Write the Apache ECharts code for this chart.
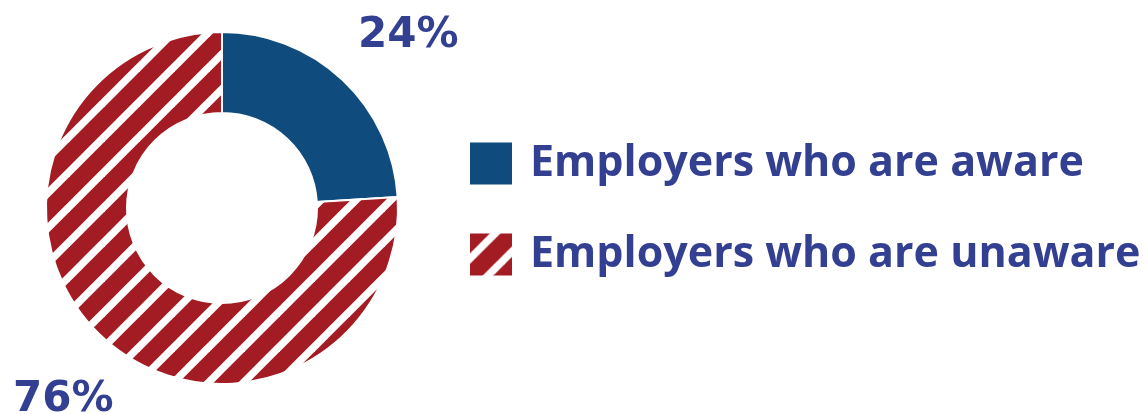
<!DOCTYPE html>
<html>
<head>
<meta charset="utf-8">
<script src="https://cdn.jsdelivr.net/npm/echarts@6/dist/echarts.min.js"></script>
<style>
  html, body { margin: 0; padding: 0; background: #ffffff; }
  #chart { width: 1148px; height: 414px; }
</style>
</head>
<body>
<div id="chart"></div>
<script>
// Share of employers by awareness (percent)
const categories = ['Employers who are aware', 'Employers who are unaware'];
const shares = [24, 76];

const BLUE = '#0F4C7D';
const RED = '#A31C24';
const TEXT = '#333F91';
const LEGEND_FONT = '"Open Sans", "Noto Sans", sans-serif';
const LABEL_FONT = '"DejaVu Sans", Verdana, sans-serif';

// Diagonal red/white hatch ("/" stripes), tiled from a square canvas.
// Each white line runs well past the tile edges so the tiles join seamlessly.
function makeHatch(period, gap, phase) {
  const c = document.createElement('canvas');
  c.width = period;
  c.height = period;
  const ctx = c.getContext('2d');
  ctx.fillStyle = RED;
  ctx.fillRect(0, 0, period, period);
  ctx.strokeStyle = '#ffffff';
  ctx.lineWidth = gap;
  for (let k = -2; k <= 3; k++) {
    const s = phase + k * period;
    ctx.beginPath();
    ctx.moveTo(s - 2 * period, 2 * period);
    ctx.lineTo(s + period, -period);
    ctx.stroke();
  }
  return c;
}

const sliceHatch = makeHatch(35, 7.5, 31);
const iconHatch = makeHatch(35, 7.5, 25);

const chart = echarts.init(document.getElementById('chart'), null, { renderer: 'canvas' });

chart.setOption({
  animation: false,
  legend: {
    orient: 'vertical',
    left: 470,
    top: 142,
    padding: 0,
    itemWidth: 42,
    itemHeight: 42,
    itemGap: 48,
    icon: 'rect',
    itemStyle: { borderWidth: 0 },
    data: [
      { name: categories[0], itemStyle: { color: BLUE, borderWidth: 0 } },
      { name: categories[1], itemStyle: { color: { image: iconHatch, repeat: 'repeat' }, borderWidth: 0 } }
    ],
    textStyle: {
      fontFamily: LEGEND_FONT,
      fontWeight: 'bold',
      fontSize: 43,
      color: TEXT,
      padding: [0, 0, 0, 13]
    }
  },
  series: [{
    type: 'pie',
    center: [222, 208],
    radius: [95, 176],
    startAngle: 90,
    clockwise: true,
    avoidLabelOverlap: false,
    itemStyle: { borderColor: '#ffffff', borderWidth: 2 },
    label: {
      show: true,
      formatter: '{c}%',
      fontFamily: LABEL_FONT,
      fontWeight: 'bold',
      fontSize: 42,
      color: TEXT
    },
    labelLine: { show: false },
    labelLayout: function (p) {
      return p.dataIndex === 0
        ? { x: 358, y: 36, align: 'left', verticalAlign: 'middle' }
        : { x: 13, y: 400, align: 'left', verticalAlign: 'middle' };
    },
    emphasis: { disabled: true },
    data: [
      { name: categories[0], value: shares[0], itemStyle: { color: BLUE } },
      { name: categories[1], value: shares[1], itemStyle: { color: { image: sliceHatch, repeat: 'repeat' } } }
    ]
  }]
});
</script>
</body>
</html>
